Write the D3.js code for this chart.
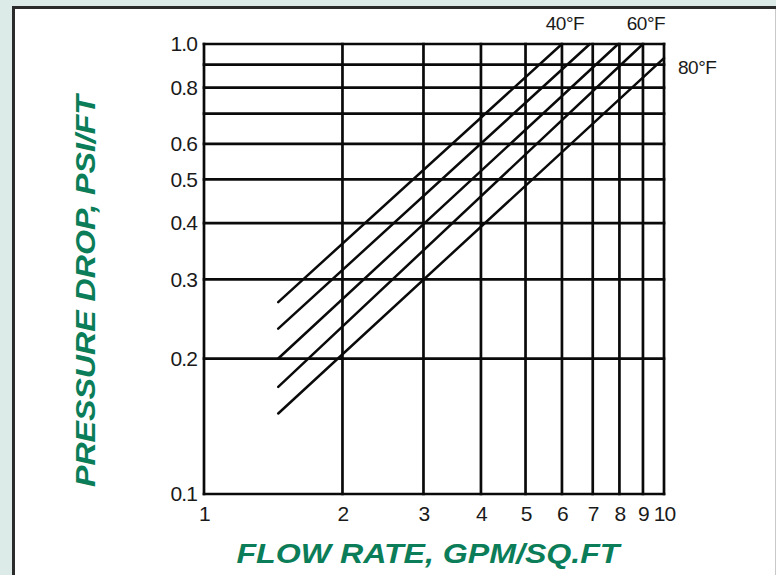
<!DOCTYPE html>
<meta charset="utf-8">
<style>
  body { margin: 0; background: #dcebe7; }
  svg { display: block; }
  .tick text { font-family: 'Liberation Sans', Arial, sans-serif; fill: #1a1a1a; font-size: 21px; letter-spacing: -0.9px; }
  .title { font-family: 'Liberation Sans', Arial, sans-serif; font-weight: bold; font-style: italic; fill: #0b7d58; }
</style>
<body>
<script src="https://cdn.jsdelivr.net/npm/d3@7"></script>
<script>
  // grid values
  var flowTicks = [1, 2, 3, 4, 5, 6, 7, 8, 9, 10];
  var dropGrid = [0.1, 0.2, 0.3, 0.4, 0.5, 0.6, 0.7, 0.8, 0.9, 1.0];
  var dropLabels = [1.0, 0.8, 0.6, 0.5, 0.4, 0.3, 0.2, 0.1];

  // the five temperature lines (start / end points)
  var startFlow = [1.45, 1.45, 1.45, 1.45, 1.45];
  var startDrop = [0.267, 0.233, 0.200, 0.173, 0.151];
  var endFlow = [6.0, 6.9, 7.95, 9.0, 10];
  var endDrop = [1.0, 1.0, 1.0, 1.0, 0.93];
  var tempLabels = ["40°F", "", "", "60°F", "80°F"];

  var width = 776, height = 575;

  var svg = d3.select("body").append("svg")
    .attr("width", width)
    .attr("height", height)

  // white panel with dark top/left border
  svg.append("rect")
    .attr("x", 12).attr("y", 7)
    .attr("width", 764).attr("height", 600)
    .attr("fill", "white")
  svg.append("path")
    .attr("d", "M13.5,575 V7.5 H776")
    .attr("fill", "none")
    .attr("stroke", "#2b2b2b")
    .attr("stroke-width", 3)
  svg.append("line")
    .attr("x1", 775.5).attr("x2", 775.5)
    .attr("y1", 9).attr("y2", 575)
    .attr("stroke", "#c8c8c8")

  var x = d3.scaleLog().domain([1, 10]).range([204, 664]);
  var y = d3.scaleLog().domain([0.1, 1]).range([494, 44]);

  var g = svg.append("g")

  // grid
  g.selectAll("line.v")
    .data(flowTicks)
    .enter().append("line")
    .attr("class", "v")
    .attr("x1", function(d) { return x(d) })
    .attr("x2", function(d) { return x(d) })
    .attr("y1", y(0.1) + 1.3)
    .attr("y2", y(1) - 1.3)
    .attr("stroke", "#0a0a0a")
    .attr("stroke-width", 2.7)

  g.selectAll("line.h")
    .data(dropGrid)
    .enter().append("line")
    .attr("class", "h")
    .attr("x1", x(1) - 1.3)
    .attr("x2", x(10) + 1.3)
    .attr("y1", function(d) { return y(d) })
    .attr("y2", function(d) { return y(d) })
    .attr("stroke", "#0a0a0a")
    .attr("stroke-width", 2.7)

  // axes (labels only)
  var xAxis = svg.append("g")
    .attr("transform", "translate(0," + y(0.1) + ")")
    .call(d3.axisBottom(x).tickValues(flowTicks).tickFormat(d3.format("d")).tickSize(0).tickPadding(12))
  var yAxis = svg.append("g")
    .attr("transform", "translate(" + x(1) + ",0)")
    .call(d3.axisLeft(y).tickValues(dropLabels).tickFormat(d3.format(".1f")).tickSize(0).tickPadding(7))
  svg.selectAll(".domain").remove()

  // temperature lines
  var idx = d3.range(startFlow.length)
  svg.selectAll("line.temp")
    .data(idx)
    .enter().append("line")
    .attr("class", "temp")
    .attr("x1", function(i) { return x(startFlow[i]) })
    .attr("y1", function(i) { return y(startDrop[i]) })
    .attr("x2", function(i) { return x(endFlow[i]) })
    .attr("y2", function(i) { return y(endDrop[i]) })
    .attr("stroke", "#0a0a0a")
    .attr("stroke-width", 2.5)
    .attr("stroke-linecap", "round")

  svg.selectAll("text.temp")
    .data(idx.filter(function(i) { return tempLabels[i] }))
    .enter().append("text")
    .attr("class", "temp")
    .style("font-family", "'Liberation Sans', Arial, sans-serif")
    .style("font-size", "19px")
    .style("letter-spacing", "-0.5px")
    .attr("fill", "#1a1a1a")
    .attr("x", function(i) { return endDrop[i] < 1 ? x(endFlow[i]) + 14 : x(endFlow[i]) + 3 })
    .attr("y", function(i) { return endDrop[i] < 1 ? y(endDrop[i]) + 16 : y(endDrop[i]) - 14 })
    .attr("text-anchor", function(i) { return endDrop[i] < 1 ? "start" : "middle" })
    .text(function(i) { return tempLabels[i] })

  // axis titles
  svg.append("text")
    .attr("class", "title")
    .attr("x", 428).attr("y", 563)
    .attr("text-anchor", "middle")
    .attr("font-size", 28)
    .attr("textLength", 383)
    .attr("lengthAdjust", "spacingAndGlyphs")
    .text("FLOW RATE, GPM/SQ.FT")

  svg.append("text")
    .attr("class", "title")
    .attr("transform", "translate(95,291) rotate(-90)")
    .attr("text-anchor", "middle")
    .attr("font-size", 28)
    .attr("textLength", 392)
    .attr("lengthAdjust", "spacingAndGlyphs")
    .text("PRESSURE DROP, PSI/FT")
</script>
</body>
